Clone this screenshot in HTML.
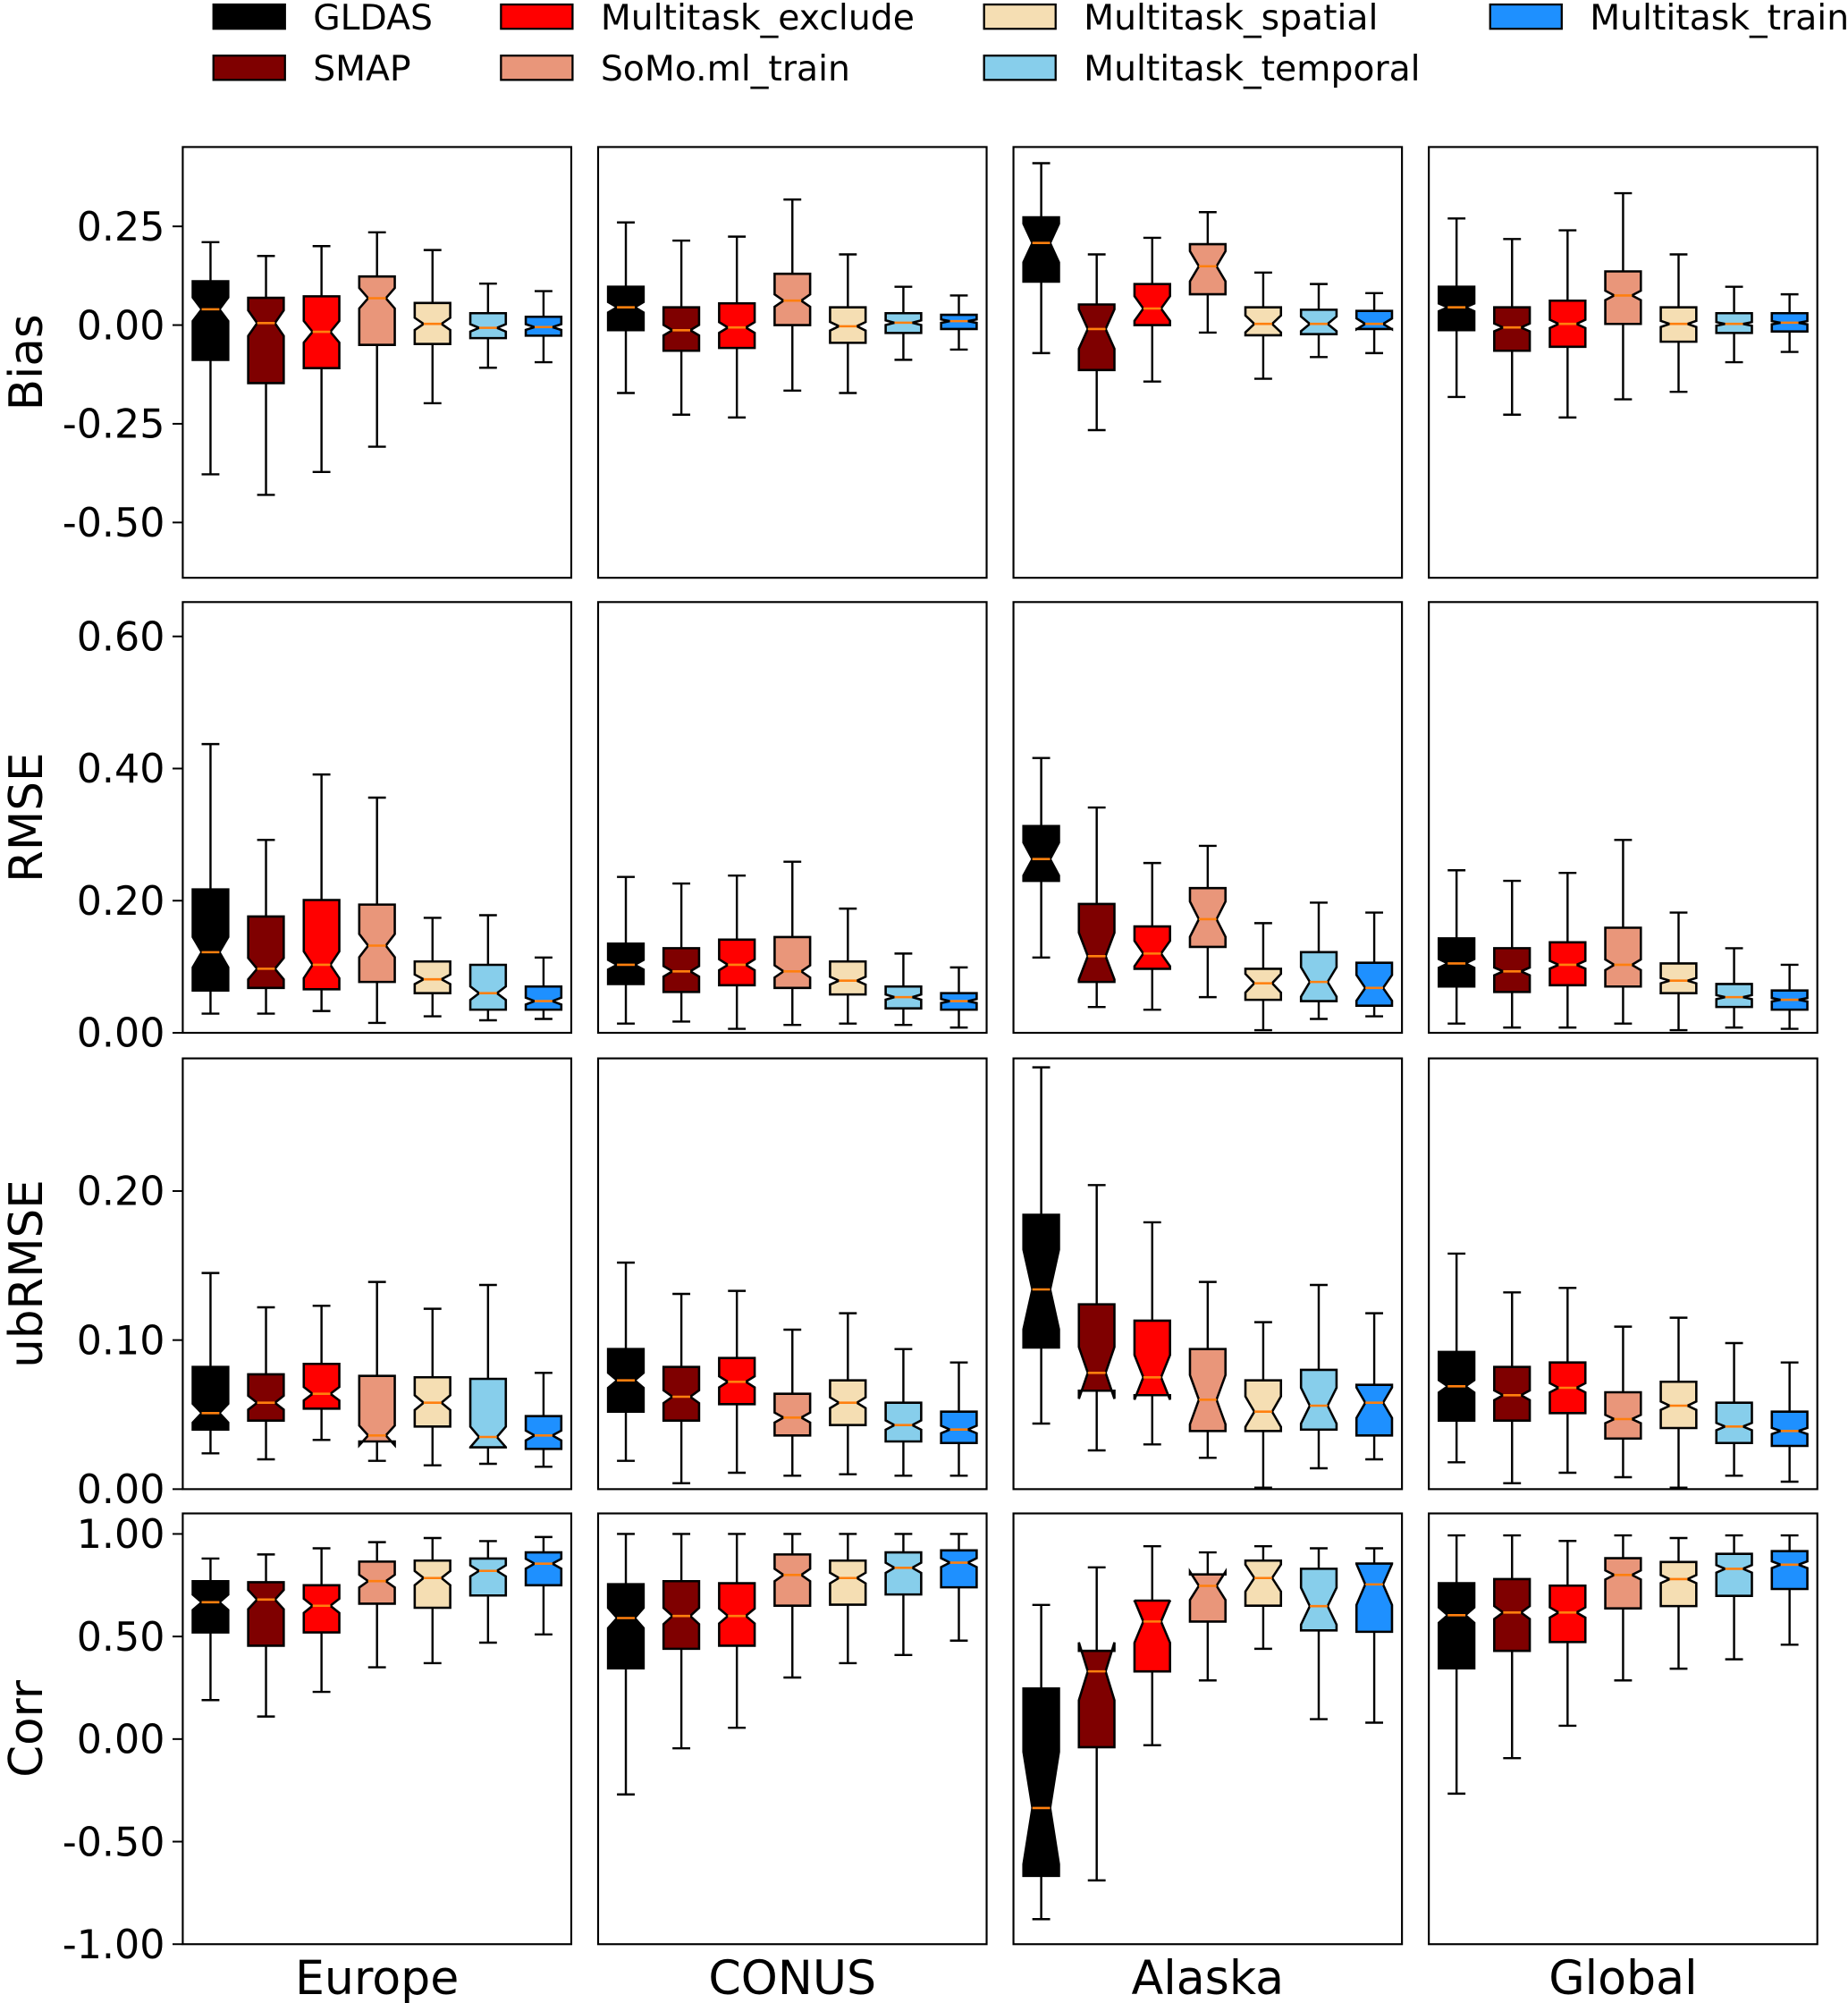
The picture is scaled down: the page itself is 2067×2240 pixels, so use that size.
<!DOCTYPE html>
<html><head><meta charset="utf-8">
<style>
html,body{margin:0;padding:0;background:#fff;}
svg{display:block;font-family:"DejaVu Sans","Liberation Sans",sans-serif;}
</style></head>
<body>
<svg id="fig" width="2067" height="2240" viewBox="0 0 1446 1567" xmlns="http://www.w3.org/2000/svg"></svg>
<script>
// ---- data ----
const regions = ["Europe","CONUS","Alaska","Global"];
const series = ["GLDAS","SMAP","Multitask_exclude","SoMo.ml_train","Multitask_spatial","Multitask_temporal","Multitask_train"];
const colors = ["#000000","#7f0000","#ff0000","#e9967a","#f5deb3","#87ceeb","#1e90ff"];
const metrics = ["Bias","RMSE","ubRMSE","Corr"];
const notchRatio = [0.15,0.12,0.3,0.09];
const yTicksBias = [0.25,0,-0.25,-0.5];
const yTickLabelsBias = ["0.25","0.00","-0.25","-0.50"];
const yTicksRMSE = [0,0.2,0.4,0.6];
const yTickLabelsRMSE = ["0.00","0.20","0.40","0.60"];
const yTicksUb = [0,0.1,0.2];
const yTickLabelsUb = ["0.00","0.10","0.20"];
const yTicksCorr = [1,0.5,0,-0.5,-1];
const yTickLabelsCorr = ["1.00","0.50","0.00","-0.50","-1.00"];
const yLims = [[-0.64,0.451],[0,0.652],[0,0.289],[-1,1.1]];
// each stat array: [metric][region][series]
const whiskerHigh = [
 [[0.21,0.175,0.2,0.235,0.19,0.105,0.086],[0.26,0.214,0.224,0.318,0.179,0.097,0.075],[0.41,0.179,0.221,0.286,0.133,0.104,0.081],[0.27,0.218,0.24,0.334,0.179,0.097,0.078]],
 [[0.437,0.292,0.391,0.356,0.174,0.178,0.114],[0.236,0.226,0.238,0.259,0.188,0.12,0.099],[0.416,0.341,0.257,0.283,0.166,0.197,0.182],[0.246,0.23,0.242,0.292,0.182,0.128,0.103]],
 [[0.145,0.122,0.123,0.139,0.121,0.137,0.078],[0.152,0.131,0.133,0.107,0.118,0.094,0.085],[0.283,0.204,0.179,0.139,0.112,0.137,0.118],[0.158,0.132,0.135,0.109,0.115,0.098,0.085]],
 [[0.88,0.9,0.93,0.96,0.98,0.965,0.985],[1.0,1.0,1.0,1.0,1.0,1.0,1.0],[0.654,0.837,0.94,0.91,0.94,0.93,0.93],[0.993,0.993,0.966,0.993,0.98,0.993,0.993]]
];
const quart3 = [
 [[0.111,0.069,0.073,0.123,0.056,0.03,0.021],[0.097,0.045,0.055,0.13,0.045,0.03,0.026],[0.273,0.052,0.104,0.205,0.045,0.039,0.036],[0.097,0.045,0.062,0.136,0.045,0.03,0.03]],
 [[0.217,0.176,0.201,0.194,0.108,0.103,0.07],[0.135,0.128,0.141,0.145,0.108,0.07,0.06],[0.313,0.195,0.161,0.219,0.097,0.122,0.106],[0.143,0.128,0.137,0.159,0.105,0.074,0.064]],
 [[0.082,0.077,0.084,0.076,0.075,0.074,0.049],[0.094,0.082,0.088,0.064,0.073,0.058,0.052],[0.184,0.124,0.113,0.094,0.073,0.08,0.07],[0.092,0.082,0.085,0.065,0.072,0.058,0.052]],
 [[0.77,0.765,0.75,0.865,0.87,0.88,0.91],[0.755,0.77,0.76,0.9,0.87,0.91,0.92],[0.246,0.43,0.675,0.803,0.87,0.83,0.856],[0.76,0.78,0.748,0.882,0.863,0.903,0.916]]
];
const medians = [
 [[0.04,0.005,-0.017,0.068,0.003,-0.007,-0.005],[0.045,-0.013,-0.006,0.062,-0.003,0.006,0.01],[0.208,-0.01,0.042,0.149,0.003,0.003,0.003],[0.045,-0.006,0.003,0.075,0.003,0.003,0.006]],
 [[0.122,0.097,0.103,0.132,0.081,0.06,0.048],[0.103,0.093,0.103,0.093,0.079,0.054,0.048],[0.263,0.116,0.12,0.172,0.075,0.077,0.068],[0.105,0.093,0.103,0.103,0.079,0.054,0.05]],
 [[0.051,0.058,0.064,0.036,0.058,0.035,0.036],[0.073,0.062,0.072,0.048,0.058,0.043,0.04],[0.134,0.078,0.075,0.06,0.052,0.056,0.058],[0.069,0.063,0.068,0.047,0.056,0.042,0.039]],
 [[0.667,0.68,0.65,0.77,0.785,0.82,0.855],[0.59,0.6,0.6,0.8,0.785,0.835,0.86],[-0.336,0.33,0.573,0.747,0.785,0.648,0.754],[0.604,0.617,0.617,0.8,0.78,0.83,0.85]]
];
const quart1 = [
 [[-0.088,-0.147,-0.109,-0.05,-0.048,-0.033,-0.027],[-0.013,-0.065,-0.058,0,-0.045,-0.02,-0.01],[0.11,-0.114,0,0.078,-0.026,-0.023,-0.01],[-0.013,-0.065,-0.055,0.003,-0.042,-0.02,-0.016]],
 [[0.064,0.068,0.066,0.077,0.06,0.035,0.035],[0.074,0.062,0.072,0.068,0.058,0.037,0.035],[0.23,0.077,0.097,0.13,0.05,0.048,0.041],[0.07,0.062,0.072,0.07,0.06,0.039,0.035]],
 [[0.04,0.046,0.054,0.032,0.042,0.028,0.027],[0.052,0.046,0.057,0.036,0.043,0.032,0.031],[0.095,0.066,0.063,0.039,0.039,0.04,0.036],[0.046,0.046,0.051,0.034,0.041,0.031,0.029]],
 [[0.52,0.455,0.52,0.66,0.64,0.7,0.75],[0.345,0.44,0.455,0.65,0.655,0.705,0.74],[-0.667,-0.04,0.33,0.573,0.65,0.53,0.523],[0.345,0.43,0.473,0.637,0.648,0.698,0.732]]
];
const whiskerLow = [
 [[-0.378,-0.43,-0.372,-0.308,-0.198,-0.108,-0.094],[-0.172,-0.227,-0.234,-0.166,-0.172,-0.088,-0.062],[-0.071,-0.266,-0.143,-0.019,-0.136,-0.081,-0.071],[-0.182,-0.227,-0.234,-0.188,-0.169,-0.094,-0.068]],
 [[0.029,0.029,0.033,0.015,0.025,0.019,0.021],[0.014,0.017,0.006,0.012,0.014,0.012,0.008],[0.114,0.039,0.035,0.054,0.004,0.021,0.025],[0.014,0.008,0.008,0.014,0.004,0.008,0.006]],
 [[0.024,0.02,0.033,0.019,0.016,0.017,0.015],[0.019,0.004,0.011,0.009,0.01,0.009,0.009],[0.044,0.026,0.03,0.021,0.001,0.014,0.02],[0.018,0.004,0.011,0.008,0.001,0.009,0.005]],
 [[0.19,0.11,0.23,0.35,0.37,0.47,0.51],[-0.27,-0.045,0.055,0.3,0.37,0.41,0.48],[-0.878,-0.689,-0.03,0.286,0.44,0.097,0.08],[-0.266,-0.093,0.065,0.286,0.343,0.389,0.46]]
];

// ---- layout ----
const NS="http://www.w3.org/2000/svg";
const svg=document.getElementById('fig');
const colX=[143,468,793,1118], panelW=304;
const rowY=[115,471,828,1184], panelH=337;
const ticks=[yTicksBias,yTicksRMSE,yTicksUb,yTicksCorr];
const tickLabels=[yTickLabelsBias,yTickLabelsRMSE,yTickLabelsUb,yTickLabelsCorr];
function mk(tag,attrs,parent){const e=document.createElementNS(NS,tag);for(const k in attrs)e.setAttribute(k,attrs[k]);(parent||svg).appendChild(e);return e;}

// legend
const legendPos=[[167,13],[167,53],[392,13],[392,53],[770,13],[770,53],[1166,13],[1166,53]];
series.forEach((s,i)=>{
  const g=mk('g',{});
  
  
  const [lx,ly]=legendPos[i];
  mk('rect',{x:lx,y:ly-9.5,width:56,height:19,fill:colors[i],stroke:'#000','stroke-width':1.6},g);
  const t=mk('text',{x:lx+78,y:ly+10,'font-size':27.5,fill:'#000'},g);
  t.textContent=s;
});

for(let m=0;m<4;m++){
  const [lo,hi]=yLims[m];
  const y0=rowY[m];
  const yS=v=>y0+panelH*(hi-v)/(hi-lo);
  const ax=mk('g',{});
  
  
  ticks[m].forEach((tv,k)=>{
    const y=yS(tv);
    mk('line',{x1:135,x2:143,y1:y,y2:y,stroke:'#000','stroke-width':1.4},ax);
    const t=mk('text',{x:129,y:y+11,'font-size':31,'text-anchor':'end'},ax);
    t.textContent=tickLabels[m][k];
  });
  const yl=mk('text',{x:0,y:0,'font-size':36,'text-anchor':'middle',transform:`translate(33 ${y0+panelH/2}) rotate(-90)`});
  
  
  yl.textContent=metrics[m];

  for(let r=0;r<4;r++){
    const x0=colX[r];
    const pg=mk('g',{});
    
    
    const step=panelW/7, bw=step*0.64;
    for(let s=0;s<7;s++){
      const cx=x0+step*(s+0.5);
      const q1=quart1[m][r][s], q3=quart3[m][r][s], md=medians[m][r][s];
      const wl=whiskerLow[m][r][s], wh=whiskerHigh[m][r][s];
      const nh=notchRatio[r]*(q3-q1);
      const bg=mk('g',{},pg);
      
      
      mk('line',{x1:cx,x2:cx,y1:yS(q3),y2:yS(wh),stroke:'#000','stroke-width':1.7},bg);
      mk('line',{x1:cx,x2:cx,y1:yS(q1),y2:yS(wl),stroke:'#000','stroke-width':1.7},bg);
      mk('line',{x1:cx-bw/4,x2:cx+bw/4,y1:yS(wh),y2:yS(wh),stroke:'#000','stroke-width':1.7},bg);
      mk('line',{x1:cx-bw/4,x2:cx+bw/4,y1:yS(wl),y2:yS(wl),stroke:'#000','stroke-width':1.7},bg);
      const L=cx-bw/2,R=cx+bw/2,l2=cx-bw/4,r2=cx+bw/4;
      const pts=[[L,yS(q1)],[L,yS(md-nh)],[l2,yS(md)],[L,yS(md+nh)],[L,yS(q3)],[R,yS(q3)],[R,yS(md+nh)],[r2,yS(md)],[R,yS(md-nh)],[R,yS(q1)]];
      mk('polygon',{points:pts.map(p=>p[0].toFixed(1)+','+p[1].toFixed(1)).join(' '),fill:colors[s],stroke:'#000','stroke-width':1.8,'stroke-linejoin':'miter'},bg);
      mk('line',{x1:l2,x2:r2,y1:yS(md),y2:yS(md),stroke:'#ff7f0e','stroke-width':1.8},bg);
    }
    mk('rect',{x:x0,y:y0,width:panelW,height:panelH,fill:'none',stroke:'#000','stroke-width':1.5},pg);
    if(m===3){
      const t=mk('text',{x:x0+panelW/2,y:1560,'font-size':36.5,'text-anchor':'middle'});
      
      
      t.textContent=regions[r];
    }
  }
}
</script>
</body></html>
